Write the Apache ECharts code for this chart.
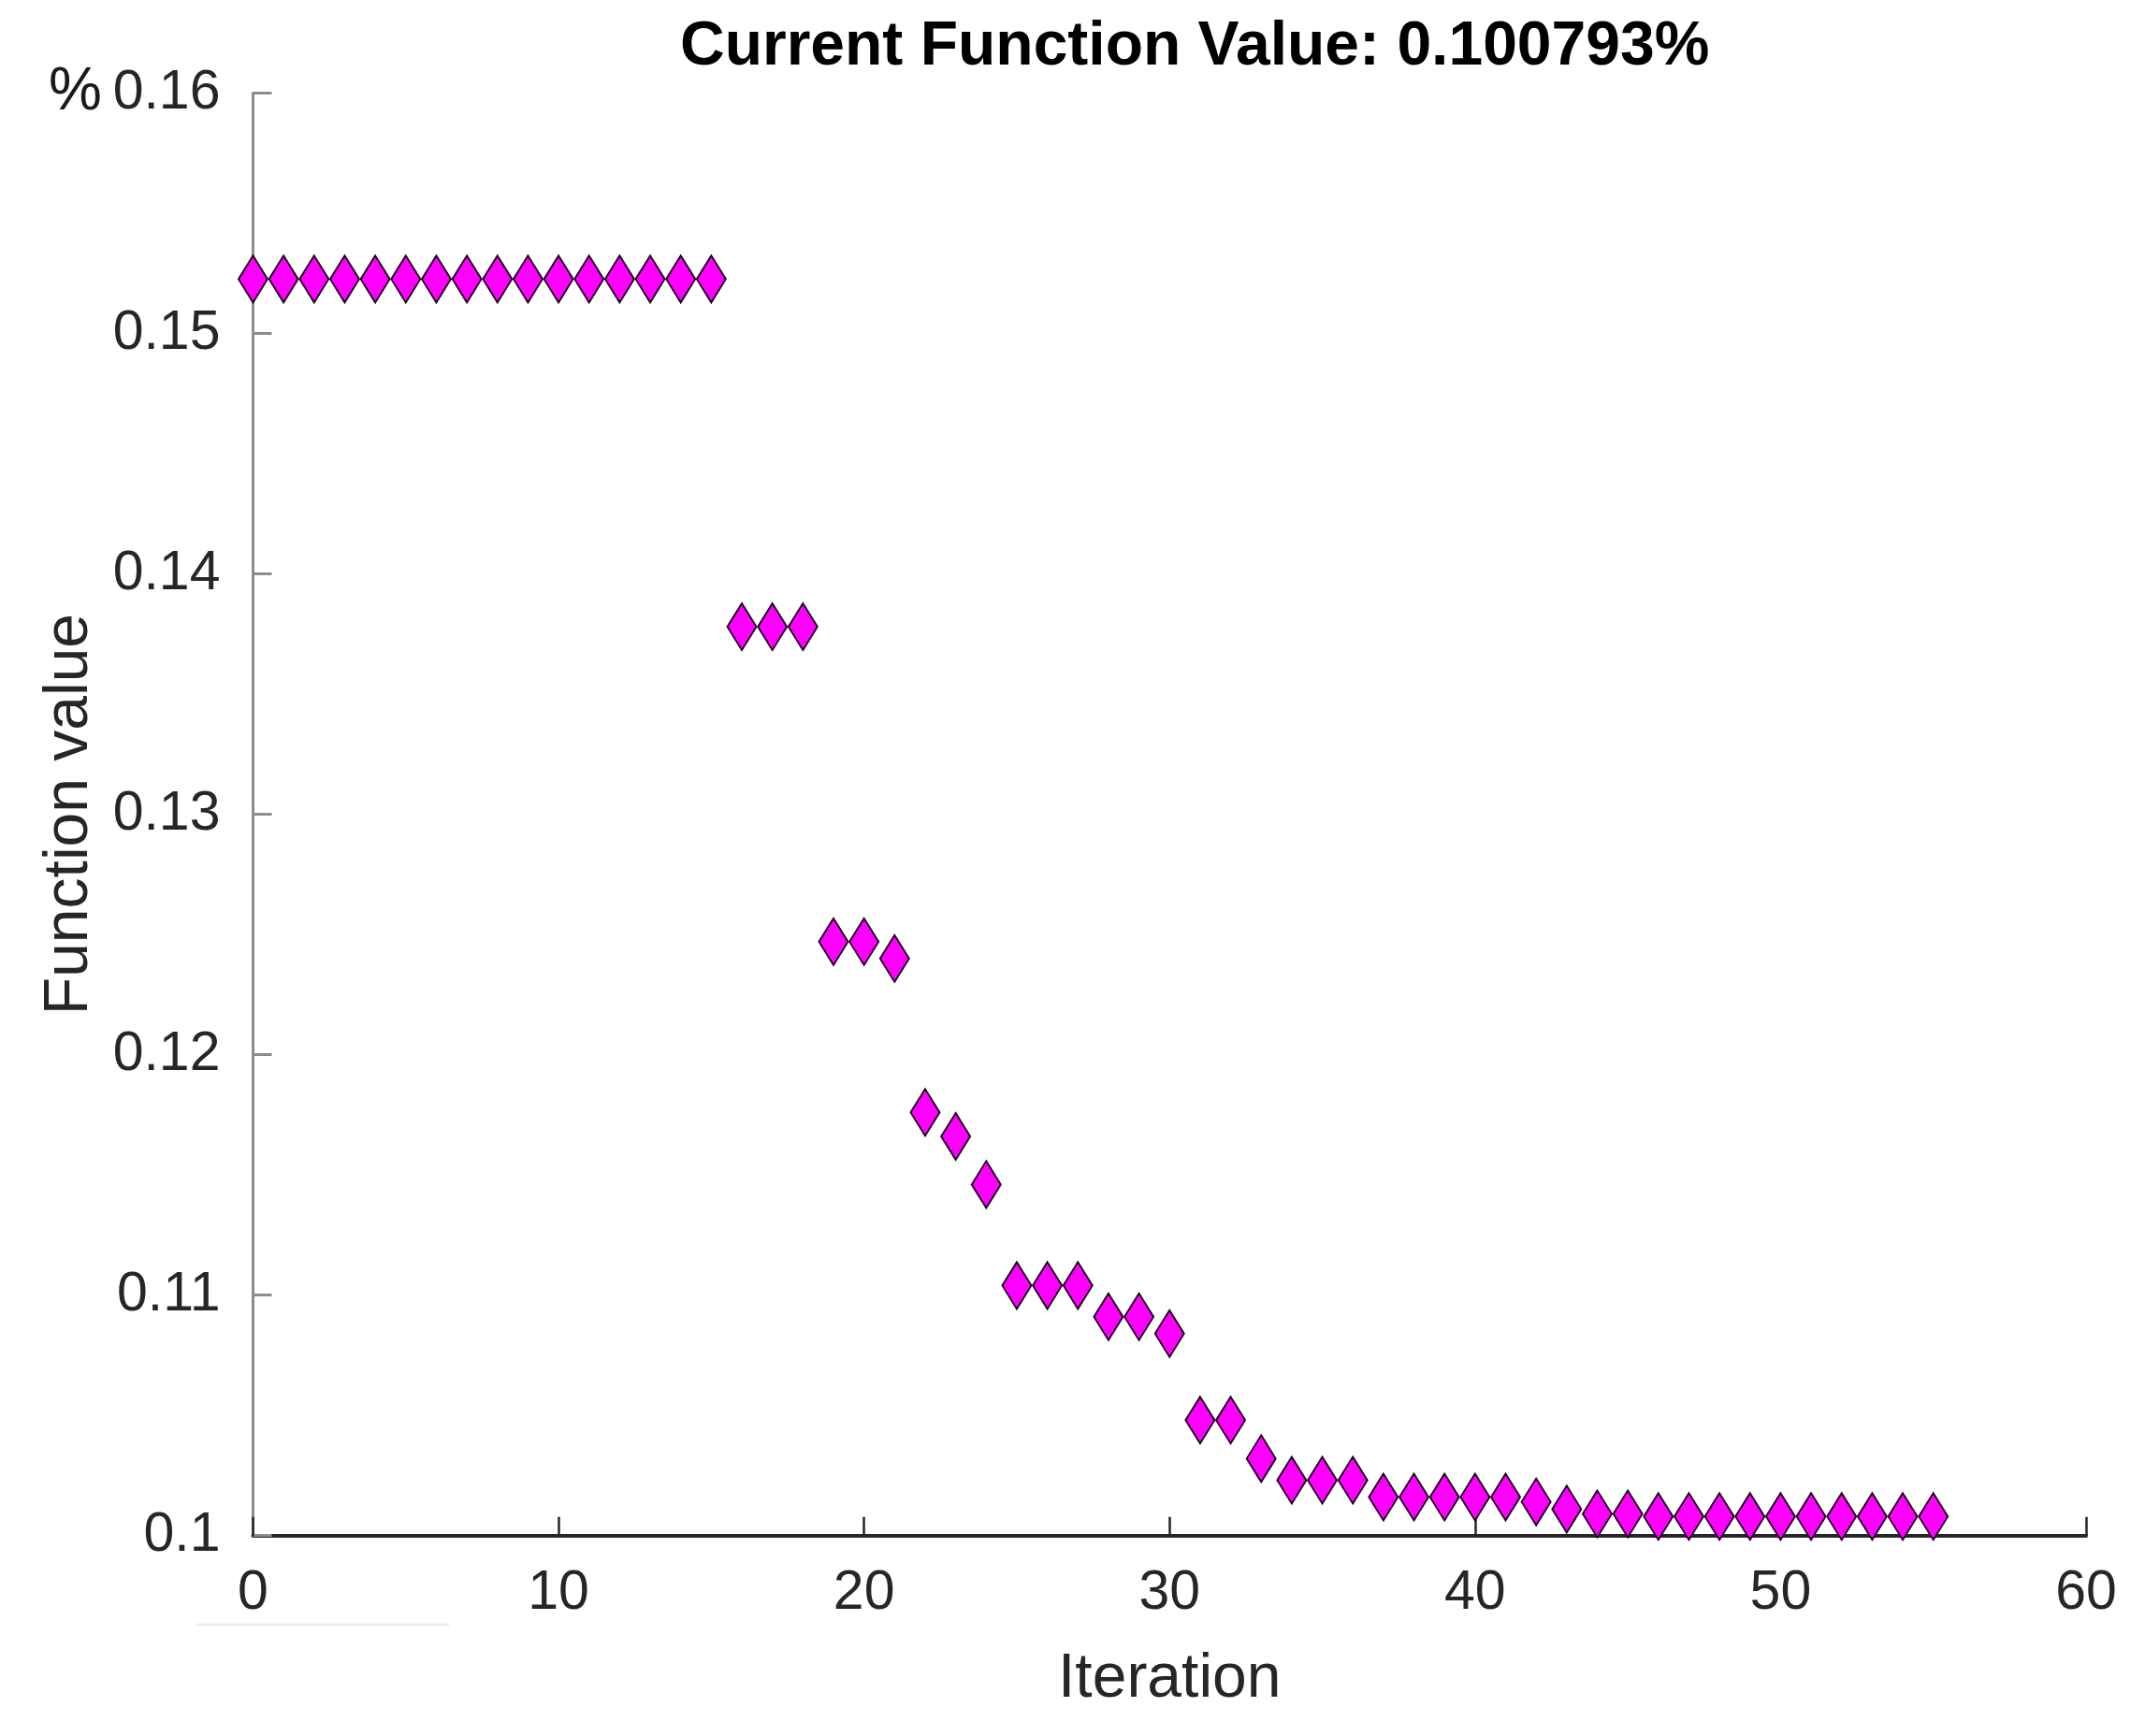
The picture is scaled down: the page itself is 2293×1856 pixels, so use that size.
<!DOCTYPE html>
<html>
<head>
<meta charset="utf-8">
<script src="https://cdn.jsdelivr.net/npm/echarts@6/dist/echarts.min.js"></script>
<style>
html,body{margin:0;padding:0;background:#fff;}
#chart{width:2293px;height:1856px;}
</style>
</head>
<body>
<div id="chart"></div>
<script>
const titleText = 'Current Function Value: 0.100793%';
const xAxisName = 'Iteration';
const yAxisName = 'Function value';
const yUnit = '%';
const iterations = [0,1,2,3,4,5,6,7,8,9,10,11,12,13,14,15,16,17,18,19,20,21,22,23,24,25,26,27,28,29,30,31,32,33,34,35,36,37,38,39,40,41,42,43,44,45,46,47,48,49,50,51,52,53,54,55];
const funcValues = [
  0.15226,0.15226,0.15226,0.15226,0.15226,0.15226,0.15226,0.15226,
  0.15226,0.15226,0.15226,0.15226,0.15226,0.15226,0.15226,0.15226,
  0.1378,0.1378,0.1378,
  0.1247,0.1247,0.1240,
  0.1176,0.1166,0.1146,
  0.1104,0.1104,0.1104,
  0.1091,0.1091,0.1084,
  0.1048,0.1048,0.1032,
  0.1023,0.1023,0.1023,
  0.1016,0.1016,0.1016,0.1016,0.1016,
  0.1014,0.1011,0.1009,0.1009,
  0.100793,0.100793,0.100793,0.100793,0.100793,
  0.100793,0.100793,0.100793,0.100793,0.100793
];
const yTickLabels = ['0.1','0.11','0.12','0.13','0.14','0.15','0.16'];
const xTickLabels = ['0','10','20','30','40','50','60'];

const points = iterations.map((x, i) => [x, funcValues[i]]);
const FONT = "'Liberation Sans', Arial, sans-serif";

const chart = echarts.init(document.getElementById('chart'), null, {renderer: 'canvas'});
chart.setOption({
  animation: false,
  backgroundColor: '#ffffff',
  title: {
    text: titleText,
    left: 727,
    top: 18,
    padding: 0,
    textStyle: {fontFamily: FONT, fontSize: 66, fontWeight: 'bold', color: '#000'}
  },
  grid: {left: 270.5, right: 63, top: 99.4, bottom: 214.3, containLabel: false},
  xAxis: {
    type: 'value',
    min: 0, max: 60, interval: 10,
    name: xAxisName,
    nameLocation: 'middle',
    nameGap: 121,
    nameTextStyle: {fontFamily: FONT, fontSize: 66, color: '#262626'},
    axisLine: {show: true, onZero: false, lineStyle: {color: '#262626', width: 4}},
    axisTick: {show: true, inside: true, length: 20, lineStyle: {color: '#262626', width: 2.5}},
    axisLabel: {
      margin: 33,
      fontFamily: FONT, fontSize: 59, color: '#262626',
      formatter: v => xTickLabels[Math.round(v / 10)]
    },
    splitLine: {show: false}
  },
  yAxis: {
    type: 'value',
    min: 0.1, max: 0.16, interval: 0.01,
    name: yAxisName,
    nameLocation: 'middle',
    nameGap: 163,
    nameRotate: 90,
    nameTextStyle: {fontFamily: FONT, fontSize: 66, color: '#262626'},
    axisLine: {show: true, onZero: false, lineStyle: {color: '#8c8c8c', width: 3}},
    axisTick: {show: true, inside: true, length: 20, lineStyle: {color: '#8c8c8c', width: 3}},
    axisLabel: {
      margin: 35,
      fontFamily: FONT, fontSize: 59, color: '#262626',
      formatter: v => yTickLabels[Math.round((v - 0.1) / 0.01)]
    },
    splitLine: {show: false}
  },
  graphic: [
    {type: 'text', x: 52, y: 99, style: {text: yUnit, fontFamily: FONT, fontSize: 64, fill: '#1a1a1a', align: 'left', verticalAlign: 'middle'}},
    {type: 'line', shape: {x1: 210, y1: 1737, x2: 480, y2: 1737}, style: {stroke: '#ececec', lineWidth: 3}}
  ],
  series: [{
    type: 'scatter',
    data: points,
    symbol: 'diamond',
    symbolSize: [31, 50],
    clip: false,
    itemStyle: {color: '#ff00ff', borderColor: '#1a0019', borderWidth: 2, opacity: 1}
  }]
});
</script>
</body>
</html>
